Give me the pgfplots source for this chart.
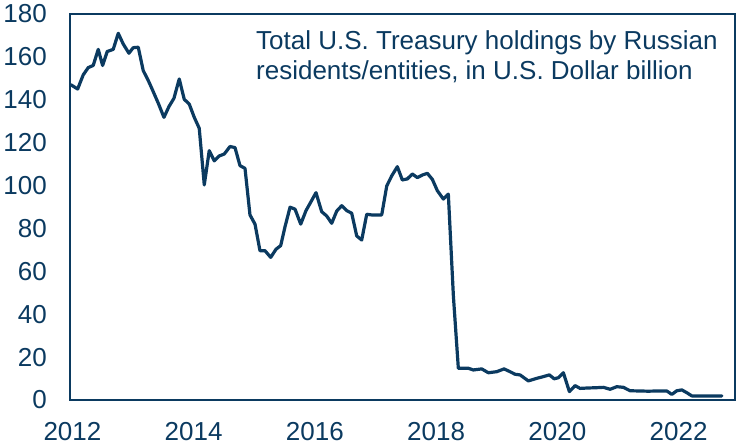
\documentclass[border=0pt]{standalone}
\usepackage{pgfplots}
\pgfplotsset{compat=1.18}
\usepackage{fontspec}
\setmainfont{Liberation Sans}
\definecolor{navy}{RGB}{11,58,96}
\begin{document}
\begin{tikzpicture}
\begin{axis}[
  at={(70pt,46pt)}, anchor=south west,
  width=665pt, height=386pt, scale only axis,
  xmin=2011.96, xmax=2022.93,
  ymin=0, ymax=180,
  xtick={2012,2014,...,2022},
  ytick={0,20,...,180},
  major tick length=0pt,
  axis line style={navy, line width=1.2pt},
  /pgf/number format/assume math mode=true,
  /pgf/number format/1000 sep={},
  tick label style={font=\fontsize{26}{26}\selectfont, text=navy, inner sep=0pt},
  yticklabel style={xshift=-23pt},
  xticklabel style={yshift=-22pt},
  clip=false,
]
\addplot[navy, line width=3.2pt, line join=round, line cap=round] coordinates {
(2011.975,147) (2012.086,145) (2012.178,151.6) (2012.261,155) (2012.343,156)
(2012.426,163.5) (2012.498,156) (2012.574,162.5) (2012.673,163.5) (2012.756,171)
(2012.838,166) (2012.932,161.7) (2013.003,164.3) (2013.086,164.5) (2013.168,153.6)
(2013.251,149) (2013.333,143.8) (2013.416,138.4) (2013.510,131.8) (2013.592,136.8)
(2013.675,140.7) (2013.762,149.7) (2013.845,140.2) (2013.927,138) (2014.010,131.8)
(2014.092,126.7) (2014.175,100.3) (2014.257,116.3) (2014.340,111.5) (2014.422,113.8)
(2014.505,114.7) (2014.599,118.2) (2014.682,117.7) (2014.764,109.3) (2014.847,108)
(2014.929,86.3) (2015.012,82) (2015.094,69.6) (2015.177,69.6) (2015.271,66.5)
(2015.358,70.3) (2015.436,72) (2015.507,80.8) (2015.590,89.9) (2015.672,89)
(2015.766,82) (2015.853,88.3) (2015.936,92.5) (2016.018,96.7) (2016.112,87.8)
(2016.195,85.8) (2016.277,82.4) (2016.360,88.1) (2016.442,90.6) (2016.525,88.3)
(2016.607,87.1) (2016.690,76.5) (2016.772,74.6) (2016.855,86.6) (2016.937,86.3)
(2017.020,86.3) (2017.102,86.3) (2017.185,99.8) (2017.267,104.5) (2017.360,108.8)
(2017.442,102.6) (2017.525,103.1) (2017.607,105.4) (2017.690,103.7) (2017.772,104.9)
(2017.855,105.7) (2017.937,102.9) (2018.020,97.6) (2018.119,93.7) (2018.201,96)
(2018.284,48.7) (2018.366,14.8) (2018.449,14.8) (2018.531,14.8) (2018.614,14)
(2018.697,14.3) (2018.752,14.5) (2018.861,12.7) (2019.000,13.2) (2019.120,14.5)
(2019.219,13.2) (2019.302,12) (2019.384,11.7) (2019.521,8.9) (2019.660,10.1)
(2019.769,10.9) (2019.868,11.7) (2019.946,9.9) (2020.017,10.4) (2020.099,12.7)
(2020.198,3.9) (2020.292,6.7) (2020.375,5.4) (2020.500,5.6) (2020.620,5.7)
(2020.759,5.9) (2020.870,5) (2020.980,6.2) (2021.089,5.9) (2021.200,4.3)
(2021.365,4.2) (2021.500,4.1) (2021.650,4.2) (2021.805,4.2) (2021.888,2.6)
(2021.970,4.3) (2022.053,4.7) (2022.135,3.4) (2022.218,1.9) (2022.400,1.9)
(2022.713,1.9)
};
\end{axis}
\node[anchor=base west, inner sep=0pt, text=navy, font=\fontsize{26}{26}\selectfont] at (256pt,396pt) {Total U.S. Treasury holdings by Russian};
\node[anchor=base west, inner sep=0pt, text=navy, font=\fontsize{26}{26}\selectfont] at (256pt,366pt) {residents/entities, in U.S. Dollar billion};
\pgfresetboundingbox
\path[use as bounding box] (0pt,0pt) rectangle (740pt,446pt);
\end{tikzpicture}
\end{document}
